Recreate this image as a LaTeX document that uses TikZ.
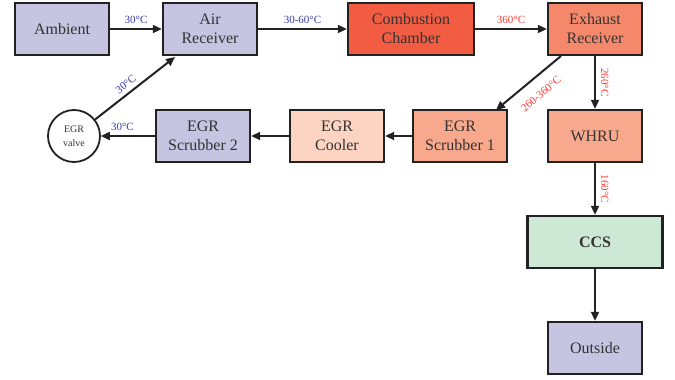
\documentclass[tikz,border=0pt]{standalone}
\usepackage{fontspec}
\setmainfont{Liberation Serif}
\usetikzlibrary{arrows.meta}
\definecolor{lav}{HTML}{C6C4E1}
\definecolor{comb}{HTML}{F15C42}
\definecolor{exh}{HTML}{F5886A}
\definecolor{scr}{HTML}{F8A88D}
\definecolor{cool}{HTML}{FDD4C2}
\definecolor{ccsg}{HTML}{CEE8D6}
\definecolor{lblue}{HTML}{3A3AAE}
\definecolor{lred}{HTML}{FF3B30}
\definecolor{txt}{HTML}{333333}
\definecolor{edge}{HTML}{222222}
\tikzset{
  box/.style={draw=edge, line width=2.4pt, minimum width=94pt, minimum height=52pt, inner sep=0pt, align=center, font=\fontsize{16}{19}\selectfont, text=txt},
  conn/.style={draw=edge, line width=2pt, -{Triangle[length=9pt,width=8pt]}},
  bl/.style={text=lblue, font=\fontsize{11}{12}\selectfont, inner sep=1pt},
  rl/.style={text=lred, font=\fontsize{11}{12}\selectfont, inner sep=1pt},
}
\begin{document}
\begin{tikzpicture}[x=1pt,y=-1pt]
\useasboundingbox (0,0) rectangle (675,380);
\node[box, fill=lav] (amb) at (62,29) {Ambient};
\node[box, fill=lav] (air) at (210,29) {Air\\Receiver};
\node[box, fill=comb, minimum width=126pt] (comb) at (411,29) {Combustion\\Chamber};
\node[box, fill=exh] (exh) at (595,29) {Exhaust\\Receiver};
\node[box, fill=scr] (s1) at (460,136) {EGR\\Scrubber 1};
\node[box, fill=scr] (whru) at (595,136) {WHRU};
\node[box, fill=cool] (cool) at (337,136) {EGR\\Cooler};
\node[box, fill=lav] (s2) at (203,136) {EGR\\Scrubber 2};
\node[draw=edge, line width=1.8pt, circle, minimum size=52pt, inner sep=0pt, fill=white, align=center, text=txt, font=\fontsize{10}{14}\selectfont] (valve) at (74,136) {EGR\\valve};
\node[box, fill=ccsg, minimum width=135pt, font=\bfseries\fontsize{16}{19}\selectfont] (ccs) at (595,242) {CCS};
\node[box, fill=lav] (out) at (595,348) {Outside};

\draw[conn] (amb) -- node[bl, above=3pt] {30°C} (air);
\draw[conn] (air) -- node[bl, above=3pt] {30-60°C} (comb);
\draw[conn] (comb) -- node[rl, above=3pt] {360°C} (exh);
\coordinate (e1) at (561,56);
\coordinate (s1t) at (496,110);
\draw[conn] (e1) -- (s1t);
\node[rl, rotate=40] (lab1) at (541,94) {260-360°C};
\draw[conn] (exh) -- node[rl, right=4pt, rotate=-90, anchor=south] {260°C} (whru);
\draw[conn] (whru) -- node[rl, right=4pt, rotate=-90, anchor=south] {160°C} (ccs);
\draw[conn] (ccs) -- (out);
\draw[conn] (s1) -- (cool);
\draw[conn] (cool) -- (s2);
\draw[conn] (s2) -- node[bl, above=3pt, pos=0.6] {30°C} (valve);
\coordinate (at) at (175,57);
\draw[conn] (valve) -- node[bl, sloped, above=3pt, pos=0.45] {30°C} (at);
\end{tikzpicture}
\end{document}
